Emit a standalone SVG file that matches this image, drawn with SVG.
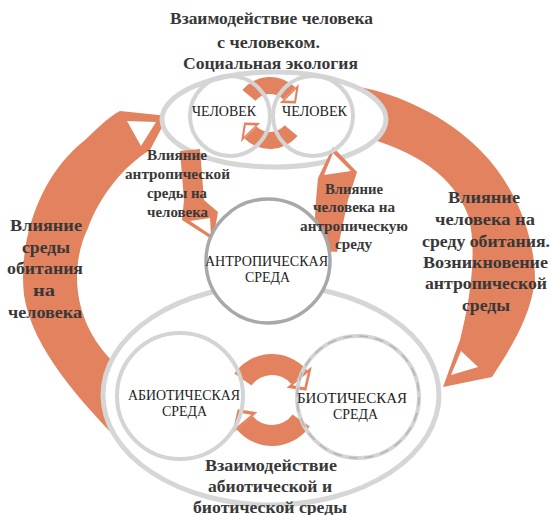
<svg xmlns="http://www.w3.org/2000/svg" width="551" height="515" viewBox="0 0 551 515">
<style>
.band{fill:#E2825F}
.hole{fill:#ffffff}
.ring{fill:#ffffff;stroke:#d6d6d6;stroke-width:5}
.circ{fill:none;stroke:#d4d4d4;stroke-width:4}
.antro{fill:#ffffff;stroke:#a8a8a8;stroke-width:3.5}
.lbl{font-family:"Liberation Serif","Times New Roman",serif;font-weight:bold;fill:#383838;text-anchor:middle}
.big{font-size:17.5px}
.small{font-size:15px}
.cl{font-family:"Liberation Serif","Times New Roman",serif;font-size:15.5px;fill:#222;text-anchor:middle}
</style>
<rect width="551" height="515" fill="#ffffff"/>

<g id="connectors">
  <g id="arrow-left-big">
    <path class="band" d="M118,440 C85,405 32,350 24,295 C18,240 40,175 85,140 C98,128 108,117 120,111 L168,116 L150,150 C125,165 100,195 88,228 C70,265 70,325 120,368 Z"/>
    <polygon class="hole" points="127,121 156,122 141,146"/>
  </g>
  <g id="arrow-right-big">
    <path class="band" d="M360,87 C400,95 445,115 480,150 C515,185 535,235 535,280 C530,320 508,352 492,377 L443,387 L460,340 C470,300 478,250 468,215 C455,180 420,150 355,135 Z"/>
    <polygon class="hole" points="461,351 451,375 478,367"/>
  </g>
</g>

<g id="node-social">
  <ellipse class="ring" cx="274" cy="119.5" rx="112" ry="47.5"/>
</g>
<g id="node-nature">
  <ellipse class="ring" cx="271" cy="395" rx="168" ry="110"/>
</g>

<g id="connectors-small">
  <g id="arrow-antro-to-human">
    <path class="band" d="M180,151 L200,149 L204,200 L218,212 L213,240 L182,220 L184,200 Z"/>
    <polygon class="hole" points="190,221 210,218 211,235"/>
  </g>
  <g id="arrow-human-to-antro">
    <path class="band" d="M318,178 L333,147 L357,172 L348,200 L337,252 L313,250 L316,200 Z"/>
    <polygon class="hole" points="333,153 324,175 351,171"/>
  </g>
</g>

<g id="node-antropic">
  <circle class="antro" cx="268" cy="261" r="62"/>
</g>

<g id="cycle-human">
  <path class="band" d="M242.4,89.9 A36,36 0 0 1 295.5,87.5 L283.4,99.6 A19,19 0 0 0 255.4,100.8 Z"/>
  <polygon class="band" points="299,84 279.9,103.1 295.9,103.6"/>
  <polygon class="hole" points="299,84 279.9,103.1 295.9,103.6" transform="translate(291.6 96.9) scale(0.6) translate(-291.6 -96.9)"/>
  <path class="band" d="M297.6,136.1 A36,36 0 0 1 244.5,138.5 L256.6,126.4 A19,19 0 0 0 284.6,125.2 Z"/>
  <polygon class="band" points="241,142 260.1,122.9 244.1,122.4"/>
  <polygon class="hole" points="241,142 260.1,122.9 244.1,122.4" transform="translate(248.4 129.1) scale(0.6) translate(-248.4 -129.1)"/>
</g>

<g id="cycle-nature">
  <path class="band" d="M234.3,373.6 A46,46 0 0 1 307.2,370.4 L291.2,383.9 A25,25 0 0 0 251.5,385.6 Z"/>
  <polygon class="band" points="311.8,366.6 286.6,387.8 306.3,390.8"/>
  <polygon class="hole" points="311.8,366.6 286.6,387.8 306.3,390.8" transform="translate(301.6 381.7) scale(0.6) translate(-301.6 -381.7)"/>
  <path class="band" d="M309.7,426.4 A46,46 0 0 1 236.8,429.6 L252.8,416.1 A25,25 0 0 0 292.5,414.4 Z"/>
  <polygon class="band" points="232.2,433.4 257.4,412.2 237.7,409.2"/>
  <polygon class="hole" points="232.2,433.4 257.4,412.2 237.7,409.2" transform="translate(242.4 418.3) scale(0.6) translate(-242.4 -418.3)"/>
</g>

<g id="node-human-1">
  <circle class="circ" cx="230" cy="116" r="40"/>
  <text class="cl" x="224" y="116" textLength="64" lengthAdjust="spacingAndGlyphs">ЧЕЛОВЕК</text>
</g>
<g id="node-human-2">
  <circle class="circ" cx="313" cy="116" r="40"/>
  <text class="cl" x="314.5" y="116" textLength="65" lengthAdjust="spacingAndGlyphs">ЧЕЛОВЕК</text>
</g>
<g id="node-abiotic">
  <circle class="circ" cx="180" cy="396" r="63"/>
  <text class="cl" x="184" y="399.5" textLength="112" lengthAdjust="spacingAndGlyphs">АБИОТИЧЕСКАЯ</text>
  <text class="cl" x="184.5" y="415.5" textLength="45" lengthAdjust="spacingAndGlyphs">СРЕДА</text>
</g>
<g id="node-biotic">
  <circle class="circ" cx="358" cy="397" r="61"/>
  <circle cx="358" cy="397" r="61" fill="none" stroke="#b4b4b4" stroke-width="1.5" stroke-dasharray="9 7"/>
  <text class="cl" x="352" y="402.5" textLength="110" lengthAdjust="spacingAndGlyphs">БИОТИЧЕСКАЯ</text>
  <text class="cl" x="355.5" y="418.5" textLength="45" lengthAdjust="spacingAndGlyphs">СРЕДА</text>
</g>
<g id="label-antropic">
  <text class="cl" x="266.5" y="265.5" textLength="123" lengthAdjust="spacingAndGlyphs">АНТРОПИЧЕСКАЯ</text>
  <text class="cl" x="267.5" y="281.5" textLength="45" lengthAdjust="spacingAndGlyphs">СРЕДА</text>
</g>

<g id="label-social" class="lbl big">
  <text x="271.5" y="23.5" textLength="203" lengthAdjust="spacingAndGlyphs">Взаимодействие человека</text>
  <text x="268.5" y="47.5" textLength="103" lengthAdjust="spacingAndGlyphs">с человеком.</text>
  <text x="270.5" y="68.5" textLength="175" lengthAdjust="spacingAndGlyphs">Социальная экология</text>
</g>
<g id="label-env-on-human" class="lbl big">
  <text x="46" y="230.5" textLength="72" lengthAdjust="spacingAndGlyphs">Влияние</text>
  <text x="46" y="252.5" textLength="48" lengthAdjust="spacingAndGlyphs">среды</text>
  <text x="45" y="273.5" textLength="76" lengthAdjust="spacingAndGlyphs">обитания</text>
  <text x="44" y="295.5" textLength="22" lengthAdjust="spacingAndGlyphs">на</text>
  <text x="45" y="317.5" textLength="74" lengthAdjust="spacingAndGlyphs">человека</text>
</g>
<g id="label-human-on-env" class="lbl big">
  <text x="484" y="202.5" textLength="72" lengthAdjust="spacingAndGlyphs">Влияние</text>
  <text x="485" y="224.5" textLength="100" lengthAdjust="spacingAndGlyphs">человека на</text>
  <text x="486" y="246.5" textLength="128" lengthAdjust="spacingAndGlyphs">среду обитания.</text>
  <text x="485.5" y="267.5" textLength="125" lengthAdjust="spacingAndGlyphs">Возникновение</text>
  <text x="486" y="288.5" textLength="122" lengthAdjust="spacingAndGlyphs">антропической</text>
  <text x="486" y="310.5" textLength="48" lengthAdjust="spacingAndGlyphs">среды</text>
</g>
<g id="label-antro-on-human" class="lbl small">
  <text x="177" y="160" textLength="60" lengthAdjust="spacingAndGlyphs">Влияние</text>
  <text x="177.5" y="179" textLength="105" lengthAdjust="spacingAndGlyphs">антропической</text>
  <text x="177" y="198" textLength="60" lengthAdjust="spacingAndGlyphs">среды на</text>
  <text x="177.5" y="217" textLength="61" lengthAdjust="spacingAndGlyphs">человека</text>
</g>
<g id="label-human-on-antro" class="lbl small">
  <text x="354" y="194" textLength="58" lengthAdjust="spacingAndGlyphs">Влияние</text>
  <text x="354" y="212" textLength="82" lengthAdjust="spacingAndGlyphs">человека на</text>
  <text x="354" y="231" textLength="108" lengthAdjust="spacingAndGlyphs">антропическую</text>
  <text x="353.5" y="249" textLength="37" lengthAdjust="spacingAndGlyphs">среду</text>
</g>
<g id="label-nature" class="lbl big">
  <text x="271" y="470.5" textLength="132" lengthAdjust="spacingAndGlyphs">Взаимодействие</text>
  <text x="270" y="491.5" textLength="124" lengthAdjust="spacingAndGlyphs">абиотической и</text>
  <text x="270" y="512.5" textLength="154" lengthAdjust="spacingAndGlyphs">биотической среды</text>
</g>
</svg>
